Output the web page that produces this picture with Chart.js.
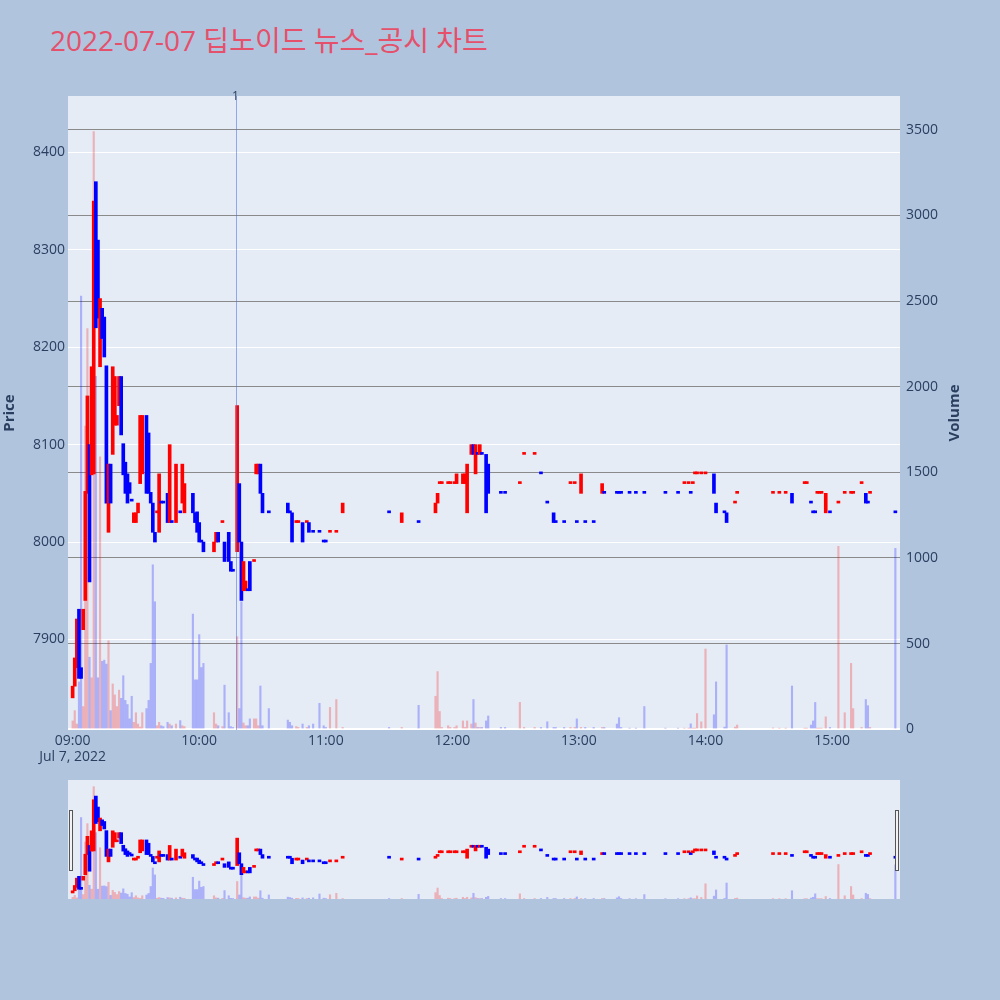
<!DOCTYPE html>
<html>
<head>
<meta charset="utf-8">
<script src="https://cdn.jsdelivr.net/npm/chart.js@4.4.0/dist/chart.umd.min.js"></script>
<style>
    html, body { margin: 0; padding: 0; background: #b0c4de; overflow: hidden; }
    #wrap { position: relative; width: 1000px; height: 1000px; }
    #title {
        position: absolute; left: 50px; top: 26px;
        font-family: "Open Sans", "Noto Sans CJK KR", sans-serif;
        font-size: 28px; line-height: 28px; color: #e5506a; white-space: nowrap;
    }
    #main { position: absolute; left: 0; top: 0; }
    #slider { position: absolute; left: 0; top: 775px; }
</style>
</head>
<body>
<div id="wrap">
    <div id="title">2022-07-07 딥노이드 뉴스_공시 차트</div>
    <canvas id="main" width="1000" height="775"></canvas>
    <canvas id="slider" width="1000" height="130"></canvas>
</div>
<script>
// one entry per minute that traded
const times = [
    '09:00','09:01','09:02','09:03','09:04','09:05','09:06','09:07','09:08','09:09',
    '09:10','09:11','09:12','09:13','09:14','09:15','09:16','09:17','09:18','09:19',
    '09:20','09:21','09:22','09:23','09:24','09:25','09:26','09:27','09:28','09:29',
    '09:30','09:31','09:32','09:33','09:35','09:36','09:37','09:38','09:39','09:40',
    '09:41','09:42','09:43','09:45','09:46','09:47','09:49','09:51','09:52','09:53',
    '09:57','09:58','09:59','10:00','10:01','10:02','10:07','10:08','10:09','10:11',
    '10:12','10:14','10:15','10:16','10:18','10:19','10:20','10:21','10:22','10:23',
    '10:24','10:26','10:27','10:28','10:29','10:30','10:33','10:42','10:43','10:44',
    '10:46','10:47','10:49','10:51','10:52','10:54','10:57','10:59','11:00','11:02',
    '11:05','11:08','11:30','11:36','11:44','11:52','11:53','11:54','11:55','11:58',
    '11:59','12:01','12:02','12:05','12:06','12:07','12:09','12:10','12:11','12:12',
    '12:13','12:14','12:16','12:17','12:23','12:25','12:32','12:34','12:39','12:42',
    '12:45','12:48','12:49','12:53','12:56','12:58','12:59','13:01','13:03','13:07',
    '13:11','13:12','13:18','13:19','13:20','13:24','13:27','13:31','13:41','13:47',
    '13:50','13:52','13:53','13:54','13:55','13:56','13:58','14:00','14:04','14:05',
    '14:09','14:10','14:14','14:15','14:32','14:35','14:38','14:41','14:47','14:48',
    '14:50','14:51','14:52','14:53','14:54','14:55','14:57','14:59','15:03','15:06',
    '15:09','15:10','15:14','15:16','15:17','15:18','15:30'
];
const opens = [
    7840,7852,7871,7931,7871,7910,7940,8050,8100,8069,
    8070,8370,8310,8180,8240,8231,8181,8010,8080,8090,
    8120,8120,8140,8170,8101,8082,8070,8061,8042,8020,
    8020,8030,8060,8070,8130,8112,8051,8040,8010,8030,
    8010,8040,8040,8050,8020,8020,8020,8030,8040,8030,
    8050,8030,8031,8020,8000,8000,7990,8000,8010,8020,
    8000,8010,7980,7970,7990,8060,8000,7950,7950,7950,
    7980,7980,8070,8070,8080,8050,8030,8040,8030,8030,
    8020,8020,8020,8020,8020,8010,8010,8000,8000,8010,
    8010,8030,8030,8020,8020,8030,8040,8060,8060,8060,
    8060,8060,8060,8060,8060,8030,8090,8100,8070,8090,
    8090,8090,8090,8080,8050,8050,8060,8090,8090,8070,
    8040,8030,8020,8020,8060,8060,8020,8050,8020,8020,
    8050,8050,8050,8050,8050,8050,8050,8050,8050,8050,
    8060,8060,8050,8060,8070,8070,8070,8070,8070,8040,
    8030,8030,8040,8050,8050,8050,8050,8050,8060,8060,
    8040,8030,8030,8050,8050,8050,8030,8030,8040,8050,
    8050,8050,8060,8050,8040,8050,8030
];
const closes = [
    7852,7881,7921,7860,7860,7931,8052,8150,7959,8180,
    8350,8220,8230,8250,8209,8190,8040,8080,8040,8180,
    8170,8130,8170,8110,8069,8050,8040,8050,8042,8030,
    8030,8040,8130,8130,8050,8050,8040,8010,8000,8030,
    8070,8040,8040,8020,8100,8020,8080,8030,8080,8060,
    8030,8020,8010,8000,8000,7990,8000,8010,8000,8020,
    7980,7980,7970,7970,8140,8000,7940,7980,7960,7950,
    7950,7980,8080,8080,8050,8030,8030,8030,8030,8000,
    8020,8020,8000,8020,8010,8010,8010,8000,8000,8010,
    8010,8040,8030,8030,8020,8040,8050,8060,8060,8060,
    8060,8060,8070,8070,8070,8080,8100,8090,8100,8090,
    8100,8090,8030,8050,8050,8050,8060,8090,8090,8070,
    8040,8020,8020,8020,8060,8060,8020,8070,8020,8020,
    8060,8050,8050,8050,8050,8050,8050,8050,8050,8050,
    8060,8060,8050,8060,8070,8070,8070,8070,8050,8030,
    8030,8020,8040,8050,8050,8050,8050,8040,8060,8060,
    8040,8030,8030,8050,8050,8050,8050,8030,8040,8050,
    8050,8050,8060,8040,8040,8050,8030
];
const volumes = [
    48,108,30,276,2530,132,1770,2340,420,300,
    3490,2060,300,1590,396,403,380,516,108,264,
    200,132,228,180,312,168,144,60,192,40,
    96,30,12,96,120,168,384,960,744,20,
    40,20,15,40,30,20,30,50,20,15,
    672,288,288,552,360,384,96,30,20,15,
    257,96,15,10,540,120,744,36,20,20,
    60,60,60,20,252,20,120,53,40,20,
    15,10,30,10,20,30,151,20,10,127,
    173,10,10,10,139,192,336,103,10,20,
    10,10,20,48,10,48,30,173,36,10,
    10,10,48,77,10,10,156,10,10,10,
    43,10,10,10,10,10,60,10,10,10,
    10,10,30,67,10,5,5,132,5,5,
    5,5,31,5,5,91,43,468,84,276,
    12,492,12,24,7,5,5,252,5,5,
    24,48,156,5,5,5,72,10,1068,96,
    384,120,10,173,137,10,1056
];

const priceTicks = [7900, 8000, 8100, 8200, 8300, 8400];
const volumeTicks = [0, 500, 1000, 1500, 2000, 2500, 3000, 3500];
const timeTicks = ['09:00', '10:00', '11:00', '12:00', '13:00', '14:00', '15:00'];
const dateLabel = 'Jul 7, 2022';
const newsTimes = ['10:17:40'];
const newsLabels = ['1'];

const UP = '#ff0000', DOWN = '#0000ff';
const UP_VOL = 'rgba(255,0,0,0.25)', DOWN_VOL = 'rgba(0,0,255,0.25)';
const TEXT = '#2a3f5f';
const FONT = '"Open Sans", "Noto Sans CJK KR", sans-serif';

const X_MIN = -2.2, X_MAX = 392.2;
const P_MIN = 7807, P_MAX = 8458;
const V_MIN = -5, V_MAX = 3698;

const toMin = function (t) {
    const p = t.split(':').map(Number);
    return (p[0] - 9) * 60 + p[1] + (p[2] || 0) / 60;
};

// plotly style direction: close vs open, ties use the previous close
const ups = [];
for (let i = 0; i < times.length; i++) {
    let up;
    if (closes[i] > opens[i]) up = true;
    else if (closes[i] < opens[i]) up = false;
    else if (i > 0 && closes[i] > closes[i - 1]) up = true;
    else if (i > 0 && closes[i] < closes[i - 1]) up = false;
    else up = i > 0 ? ups[i - 1] : true;
    ups.push(up);
}

const makeDatasets = function () {
    return [
        {
            label: 'Price',
            yAxisID: 'y',
            data: times.map((t, i) => ({ x: toMin(t), y: [opens[i], closes[i]] })),
            backgroundColor: ups.map(u => u ? UP : DOWN),
            barThickness: 3,
            minBarLength: 2,
            grouped: false,
            order: 0
        },
        {
            label: 'Volume',
            yAxisID: 'y2',
            data: times.map((t, i) => ({ x: toMin(t), y: volumes[i] })),
            backgroundColor: ups.map(u => u ? UP_VOL : DOWN_VOL),
            barThickness: 1.5,
            grouped: false,
            order: 1
        }
    ];
};

const plotBg = {
    id: 'plotBg',
    beforeDraw(chart) {
        const a = chart.chartArea, ctx = chart.ctx;
        ctx.save();
        ctx.fillStyle = '#e5ecf6';
        ctx.fillRect(a.left, a.top, a.right - a.left, a.bottom - a.top);
        ctx.restore();
    }
};

const newsLines = {
    id: 'newsLines',
    afterDatasetsDraw(chart) {
        const a = chart.chartArea, ctx = chart.ctx, xs = chart.scales.x;
        ctx.save();
        newsTimes.forEach((t, i) => {
            const x = Math.round(xs.getPixelForValue(toMin(t))) + 0.5;
            ctx.strokeStyle = 'rgba(80,110,220,0.55)';
            ctx.lineWidth = 1;
            ctx.beginPath();
            ctx.moveTo(x, a.top);
            ctx.lineTo(x, a.bottom);
            ctx.stroke();
            ctx.fillStyle = TEXT;
            ctx.font = '12px ' + FONT;
            ctx.textAlign = 'center';
            ctx.textBaseline = 'middle';
            ctx.fillText(newsLabels[i], x - 1, a.top + 1);
        });
        ctx.restore();
    }
};

const volumeTitle = {
    id: 'volumeTitle',
    afterDraw(chart) {
        const a = chart.chartArea, ctx = chart.ctx;
        ctx.save();
        ctx.translate(955, (a.top + a.bottom) / 2);
        ctx.rotate(-Math.PI / 2);
        ctx.fillStyle = TEXT;
        ctx.font = 'bold 15px ' + FONT;
        ctx.textAlign = 'center';
        ctx.textBaseline = 'middle';
        ctx.fillText('Volume', 0, 0);
        ctx.restore();
    }
};

new Chart(document.getElementById('main'), {
    type: 'bar',
    data: { datasets: makeDatasets() },
    plugins: [plotBg, newsLines, volumeTitle],
    options: {
        responsive: false,
        animation: false,
        layout: { padding: { top: 96, left: 0, right: 0, bottom: 0 } },
        plugins: { legend: { display: false }, tooltip: { enabled: false } },
        scales: {
            x: {
                type: 'linear',
                min: X_MIN,
                max: X_MAX,
                offset: false,
                grid: { display: false, offset: false, drawTicks: false },
                border: { display: false },
                afterBuildTicks: s => { s.ticks = timeTicks.map(t => ({ value: toMin(t) })); },
                afterFit: s => { s.height = 45; },
                ticks: {
                    autoSkip: false, maxRotation: 0, minRotation: 0, padding: 3,
                    color: TEXT, font: { family: FONT, size: 14, lineHeight: 1.15 },
                    callback: (v, i) => i === 0 ? [timeTicks[i], dateLabel] : timeTicks[i]
                }
            },
            y: {
                position: 'left',
                min: P_MIN,
                max: P_MAX,
                afterBuildTicks: s => { s.ticks = priceTicks.map(v => ({ value: v })); },
                afterFit: s => { s.width = 68; },
                grid: { color: '#ffffff', lineWidth: 1, drawTicks: false },
                border: { display: false },
                ticks: { color: TEXT, font: { family: FONT, size: 14 }, padding: 3, callback: v => String(v) },
                title: { display: true, text: 'Price', color: TEXT, font: { family: FONT, size: 15, weight: 'bold' }, padding: { top: 1, bottom: 0 } }
            },
            y2: {
                position: 'right',
                min: V_MIN,
                max: V_MAX,
                afterBuildTicks: s => { s.ticks = volumeTicks.map(v => ({ value: v })); },
                afterFit: s => { s.width = 100; },
                grid: {
                    color: c => c.tick && c.tick.value === 0 ? '#ffffff' : 'rgba(128,128,128,0.9)',
                    lineWidth: c => c.tick && c.tick.value === 0 ? 2 : 1,
                    drawTicks: false
                },
                border: { display: false },
                ticks: { color: TEXT, font: { family: FONT, size: 14 }, padding: 6, callback: v => String(v) }
            }
        }
    }
});

const sliderHandles = {
    id: 'sliderHandles',
    afterDraw(chart) {
        const a = chart.chartArea, ctx = chart.ctx;
        ctx.save();
        ctx.fillStyle = '#f2f2f2';
        ctx.strokeStyle = '#555';
        ctx.lineWidth = 1;
        [a.left + 1, a.right - 5].forEach(x => {
            ctx.fillRect(x + 0.5, 35.5, 3, 60);
            ctx.strokeRect(x + 0.5, 35.5, 3, 60);
        });
        ctx.restore();
    }
};

new Chart(document.getElementById('slider'), {
    type: 'bar',
    data: { datasets: makeDatasets() },
    plugins: [plotBg, sliderHandles],
    options: {
        responsive: false,
        animation: false,
        layout: { padding: { top: 5, left: 68, right: 100, bottom: 6 } },
        plugins: { legend: { display: false }, tooltip: { enabled: false } },
        scales: {
            x: { type: 'linear', min: X_MIN, max: X_MAX, offset: false, display: false },
            y: { min: P_MIN, max: P_MAX, display: false },
            y2: { position: 'right', min: V_MIN, max: V_MAX, display: false }
        }
    }
});
</script>
</body>
</html>
